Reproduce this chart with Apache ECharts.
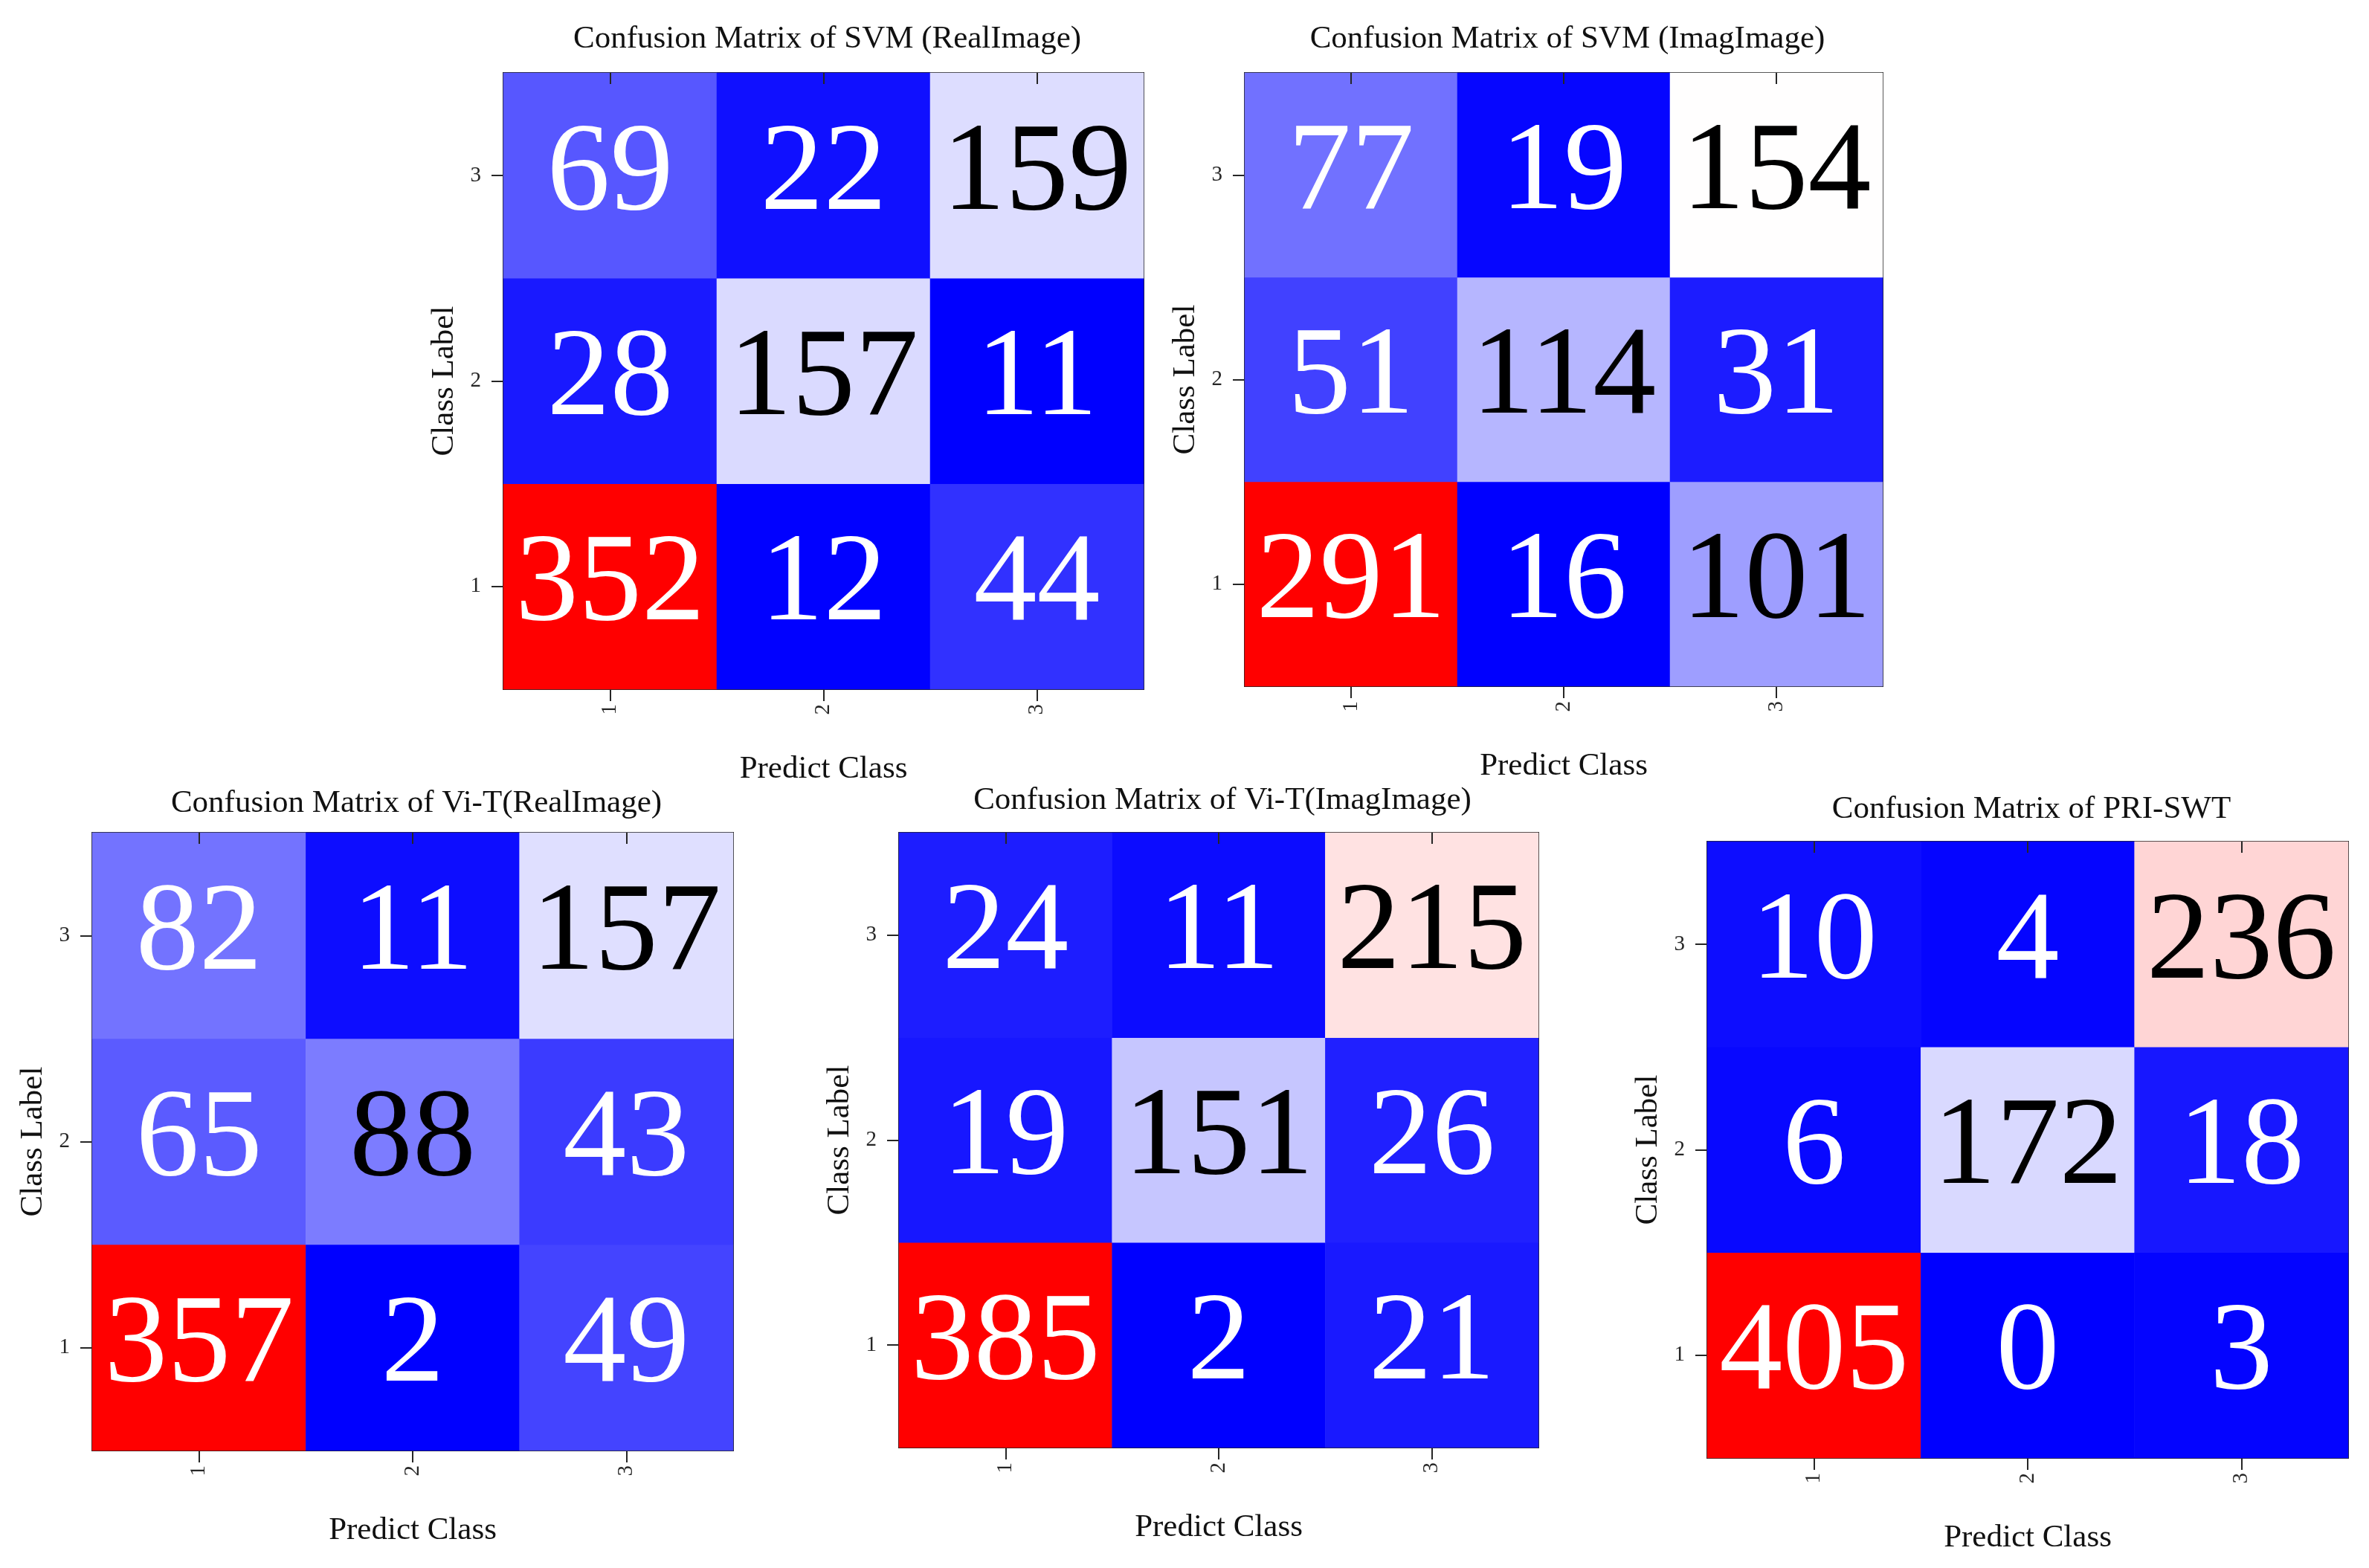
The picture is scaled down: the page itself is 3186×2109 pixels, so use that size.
<!DOCTYPE html>
<html>
<head>
<meta charset="utf-8">
<script src="https://cdn.jsdelivr.net/npm/echarts@6/dist/echarts.min.js"></script>
<style>
  html, body { margin: 0; padding: 0; background: #fff; }
  #chart { width: 3186px; height: 2109px; }
</style>
</head>
<body>
<div id="chart"></div>
<script>
// classes on both axes
const classLabels = ['1', '2', '3'];

// rows: class label 1, 2, 3 (bottom to top); columns: predict class 1, 2, 3
const svmReal = [
  [352, 12, 44],
  [28, 157, 11],
  [69, 22, 159],
];
const svmImag = [
  [291, 16, 101],
  [51, 114, 31],
  [77, 19, 154],
];
const vitReal = [
  [357, 2, 49],
  [65, 88, 43],
  [82, 11, 157],
];
const vitImag = [
  [385, 2, 21],
  [19, 151, 26],
  [24, 11, 215],
];
const priSwt = [
  [405, 0, 3],
  [6, 172, 18],
  [10, 4, 236],
];

const titles = [
  'Confusion Matrix of SVM (RealImage)',
  'Confusion Matrix of SVM (ImagImage)',
  'Confusion Matrix of Vi-T(RealImage)',
  'Confusion Matrix of Vi-T(ImagImage)',
  'Confusion Matrix of PRI-SWT',
];
const matrices = [svmReal, svmImag, vitReal, vitImag, priSwt];

// plot boxes (px)
const boxes = [
  { left: 677, top: 98, width: 861, height: 829, titleTop: 26 },
  { left: 1674, top: 98, width: 858, height: 825, titleTop: 26 },
  { left: 124, top: 1120, width: 862, height: 831, titleTop: 1054 },
  { left: 1209, top: 1120, width: 860, height: 827, titleTop: 1050 },
  { left: 2296, top: 1132, width: 862, height: 829, titleTop: 1062 },
];

const font = 'Liberation Serif';
const inkColor = '#262626';

const option = {
  backgroundColor: '#fff',
  animation: false,
  title: [],
  grid: [],
  xAxis: [],
  yAxis: [],
  visualMap: [],
  series: [],
};

matrices.forEach((m, i) => {
  const b = boxes[i];
  const flat = m.flat();
  const vmin = Math.min(...flat);
  const vmax = Math.max(...flat);

  option.title.push({
    text: titles[i],
    left: b.left + b.width / 2,
    top: b.titleTop,
    textAlign: 'center',
    textStyle: { fontFamily: font, fontSize: 43, fontWeight: 'normal', color: '#111' },
  });

  option.grid.push({
    left: b.left, top: b.top, width: b.width, height: b.height,
    show: true, borderColor: '#222', borderWidth: 2, backgroundColor: 'transparent',
  });

  // bottom x axis with labels
  option.xAxis.push({
    type: 'category', gridIndex: i, data: classLabels, position: 'bottom',
    name: 'Predict Class', nameLocation: 'middle', nameGap: 86,
    nameTextStyle: { fontFamily: font, fontSize: 43, color: '#111' },
    axisLine: { show: false },
    axisTick: { show: true, alignWithLabel: true, length: 16, lineStyle: { color: inkColor, width: 2 } },
    axisLabel: { rotate: 90, margin: 20, fontFamily: font, fontSize: 29, color: inkColor },
    splitLine: { show: false },
  });
  // top mirrored axis, ticks inside
  option.xAxis.push({
    type: 'category', gridIndex: i, data: classLabels, position: 'top',
    axisLine: { show: false },
    axisTick: { show: true, inside: true, alignWithLabel: true, length: 15, lineStyle: { color: inkColor, width: 2 } },
    axisLabel: { show: false },
    splitLine: { show: false },
    z: 10,
  });

  option.yAxis.push({
    type: 'category', gridIndex: i, data: classLabels,
    name: 'Class Label', nameLocation: 'middle', nameGap: 58, nameRotate: 90,
    nameTextStyle: { fontFamily: font, fontSize: 43, color: '#111' },
    axisLine: { show: false },
    axisTick: { show: true, alignWithLabel: true, length: 16, lineStyle: { color: inkColor, width: 2 } },
    axisLabel: { margin: 30, fontFamily: font, fontSize: 29, color: inkColor },
    splitLine: { show: false },
  });

  option.visualMap.push({
    show: false, seriesIndex: i, min: vmin, max: vmax, dimension: 2,
    inRange: { color: ['#0000ff', '#ffffff', '#ff0000'] },
  });

  const data = [];
  m.forEach((row, yi) => {
    row.forEach((v, xi) => {
      const t = (v - vmin) / (vmax - vmin);
      const dark = t > 0.235 && t < 0.8;
      data.push({ value: [xi, yi, v], label: { color: dark ? '#000' : '#fff' } });
    });
  });

  option.series.push({
    type: 'heatmap', xAxisIndex: i * 2, yAxisIndex: i, data,
    label: { show: true, fontFamily: font, fontSize: 170 },
    itemStyle: { borderWidth: 0 },
    emphasis: { disabled: true },
  });
});

const chart = echarts.init(document.getElementById('chart'));
chart.setOption(option);
</script>
</body>
</html>
